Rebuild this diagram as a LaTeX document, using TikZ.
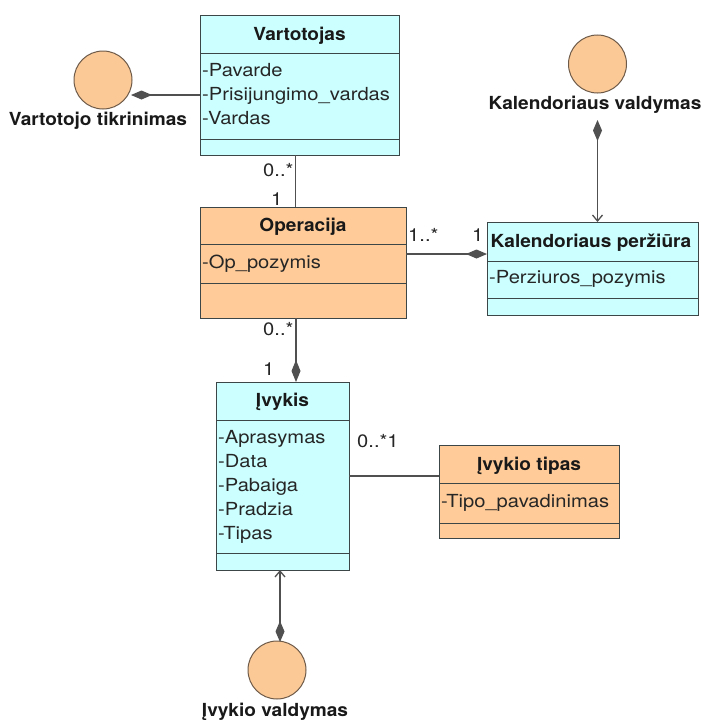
\documentclass[tikz,border=0pt]{standalone}
\usepackage{fontspec}
\setmainfont{TeX Gyre Heros}
\newfontfamily\attrfont{TeX Gyre Heros}[FakeStretch=1.12]
\newfontfamily\titlefont{TeX Gyre Heros}[FakeStretch=1.06]
\usetikzlibrary{arrows.meta}
\definecolor{clscyan}{HTML}{CCFFFF}
\definecolor{clsorange}{HTML}{FFCC99}
\definecolor{ctlfill}{HTML}{FBC996}
\definecolor{ctlline}{HTML}{6E5A48}
\definecolor{boxline}{HTML}{3C4646}
\definecolor{wire}{HTML}{505050}
\begin{document}
\begin{tikzpicture}[x=1pt,y=-1pt,
  font=\attrfont\fontsize{18}{22}\selectfont,
  classbox/.style={draw=boxline,line width=1pt,inner sep=0pt,outer sep=0pt},
  divider/.style={draw=boxline,line width=1pt},
  title/.style={font=\titlefont\fontsize{18}{22}\selectfont\bfseries,anchor=base,inner sep=0pt,text=black!90},
  attr/.style={anchor=base west,inner sep=0pt,text=black!85},
  mult/.style={anchor=base west,inner sep=0pt,text=black!85},
  ctl/.style={circle,draw=ctlline,fill=ctlfill,line width=1pt,minimum size=58pt,inner sep=0pt},
  ctllabel/.style={font=\titlefont\fontsize{18}{22}\selectfont\bfseries,anchor=base,inner sep=0pt,text=black!90},
  assoc/.style={draw=wire,line width=1.3pt},
  compo/.style={assoc,{Diamond[length=21pt,width=9pt,fill=wire]}-},
  compnav/.style={assoc,{Diamond[length=21pt,width=9pt,fill=wire]}-{Straight Barb[length=6pt,width=10pt]}}
]
\useasboundingbox[fill=white] (0,0) rectangle (701,720);

% ---- Vartotojas
\node[classbox,fill=clscyan,minimum width=199pt,minimum height=140pt,anchor=north west] (vart) at (200,15) {};
\draw[divider] (200,53) -- (399,53) (200,139) -- (399,139);
\node[title] (vartT) at (299.5,40) {Vartotojas};
\node[attr] (vartA1) at (202,76) {-Pavarde};
\node[attr] (vartA2) at (202,100) {-Prisijungimo\_vardas};
\node[attr] (vartA3) at (202,124) {-Vardas};

% ---- Operacija
\node[classbox,fill=clsorange,minimum width=206pt,minimum height=111pt,anchor=north west] (oper) at (200,207) {};
\draw[divider] (200,244) -- (406,244) (200,283) -- (406,283);
\node[title] (operT) at (303,231) {Operacija};
\node[attr] (operA1) at (202,268) {-Op\_pozymis};

% ---- Kalendoriaus peržiūra
\node[classbox,fill=clscyan,minimum width=211pt,minimum height=93pt,anchor=north west] (kper) at (487,222) {};
\draw[divider] (487,261) -- (698,261) (487,298) -- (698,298);
\node[title] (kperT) at (591,247) {Kalendoriaus peržiūra};
\node[attr] (kperA1) at (489,283) {-Perziuros\_pozymis};

% ---- Įvykis
\node[classbox,fill=clscyan,minimum width=133pt,minimum height=188pt,anchor=north west] (ivyk) at (216,382) {};
\draw[divider] (216,420) -- (349,420) (216,553) -- (349,553);
\node[title] (ivykT) at (282.5,406) {Įvykis};
\foreach \t [count=\i] in {Aprasymas,Data,Pabaiga,Pradzia,Tipas}
  \node[attr] (ivykA\i) at (218,{443+24*(\i-1)}) {-\t};

% ---- Įvykio tipas
\node[classbox,fill=clsorange,minimum width=180pt,minimum height=93pt,anchor=north west] (tipas) at (439,445) {};
\draw[divider] (439,483) -- (619,483) (439,523) -- (619,523);
\node[title] (tipasT) at (529,470) {Įvykio tipas};
\node[attr] (tipasA1) at (441,507) {-Tipo\_pavadinimas};

% ---- control objects
\node[ctl] (vtik) at (103,80) {};
\node[ctllabel] (vtikL) at (98,125) {Vartotojo tikrinimas};
\node[ctl] (kval) at (597.5,64) {};
\node[ctllabel] (kvalL) at (595,109) {Kalendoriaus valdymas};
\node[ctl] (ival) at (277,670) {};
\node[ctllabel] (ivalL) at (275,716) {Įvykio valdymas};

% ---- connectors
\coordinate (vtikEnd) at (131,95);
\draw[compo] (vtikEnd) -- (vtikEnd -| vart.west);

\draw[assoc] ([xshift=-4pt]vart.south) -- ([xshift=-4pt]vart.south |- oper.north);
\node[mult] (m1) at (263,176) {0..*};
\node[mult] (m2) at (271,205) {1};

\coordinate (operR) at (406,254);
\draw[compo] (operR -| kper.west) -- (operR);
\node[mult] (m3) at (408,241) {1..*};
\node[mult] (m4) at (472,241) {1};

\coordinate (kvalEnd) at (597.5,120);
\draw[compnav] (kvalEnd) -- (kvalEnd |- kper.north);

\coordinate (operB) at (296,318);
\draw[assoc,-{Diamond[length=22pt,width=9pt,fill=wire]}] (operB) -- (operB |- ivyk.north);
\node[mult] (m5) at (263,335) {0..*};
\node[mult] (m6) at (263,375) {1};

\coordinate (ivykR) at (349,476);
\draw[assoc] (ivykR) -- (ivykR -| tipas.west);
\node[mult] (m7) at (357,447) {0..*1};

\coordinate (ivalEnd) at (280,642);
\draw[compnav] (ivalEnd) -- (ivalEnd |- ivyk.south);
\end{tikzpicture}
\end{document}
